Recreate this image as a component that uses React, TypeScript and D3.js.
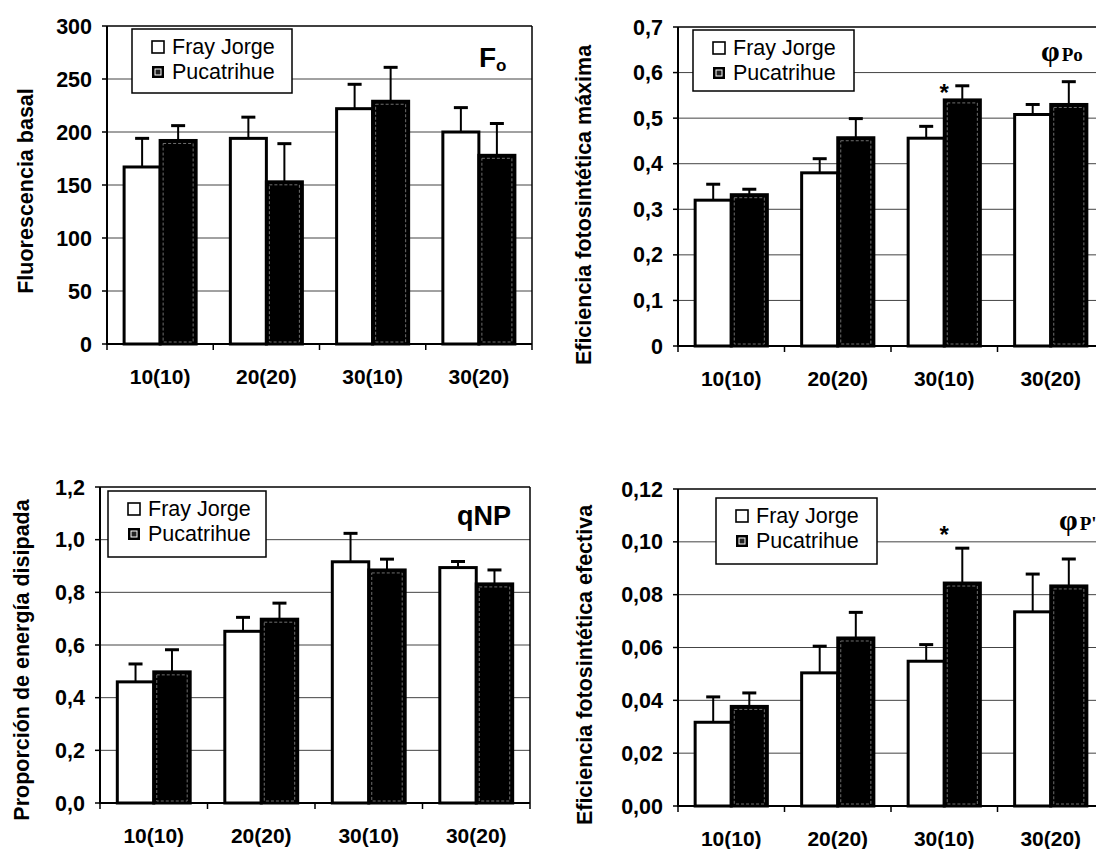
import React from "react";
import * as d3 from "d3";

const categories = ["10(10)", "20(20)", "30(10)", "30(20)"];
const seriesNames = ["Fray Jorge", "Pucatrihue"];

// Fluorescencia basal (Fo)
const foFray = [167, 194, 222, 200];
const foFrayErr = [27, 20, 23, 23];
const foPuca = [192, 153, 229, 178];
const foPucaErr = [14, 36, 32, 30];
const foTicks = [0, 50, 100, 150, 200, 250, 300];

// Eficiencia fotosintética máxima (φPo)
const poFray = [0.32, 0.38, 0.456, 0.508];
const poFrayErr = [0.035, 0.031, 0.026, 0.022];
const poPuca = [0.332, 0.457, 0.54, 0.53];
const poPucaErr = [0.012, 0.042, 0.031, 0.05];
const poTicks = [0, 0.1, 0.2, 0.3, 0.4, 0.5, 0.6, 0.7];
const poSig = [null, null, 0.56, null];

// Proporción de energía disipada (qNP)
const qnpFray = [0.46, 0.652, 0.916, 0.894];
const qnpFrayErr = [0.068, 0.053, 0.108, 0.023];
const qnpPuca = [0.498, 0.698, 0.885, 0.832];
const qnpPucaErr = [0.084, 0.061, 0.041, 0.053];
const qnpTicks = [0, 0.2, 0.4, 0.6, 0.8, 1.0, 1.2];

// Eficiencia fotosintética efectiva (φP')
const pFray = [0.0317, 0.0504, 0.0548, 0.0735];
const pFrayErr = [0.0096, 0.0101, 0.0063, 0.0143];
const pPuca = [0.0377, 0.0636, 0.0844, 0.0833];
const pPucaErr = [0.0051, 0.0097, 0.0132, 0.0102];
const pTicks = [0, 0.02, 0.04, 0.06, 0.08, 0.1, 0.12];
const pSig = [null, null, 0.1035, null];

const FONT = "'Liberation Sans', Arial, Helvetica, sans-serif";
const SERIF = "'Liberation Serif', 'Times New Roman', serif";

const comma = (f: string) => (v: number) => d3.format(f)(v).replace(".", ",");

type PanelProps = {
  left: number; right: number; top: number; bottom: number;
  ticks: number[]; fmt: (v: number) => string;
  fray: number[]; frayErr: number[]; puca: number[]; pucaErr: number[];
  sig?: (number | null)[];
  legend: { x: number; y: number; w: number; h: number };
  title: string; titleX: number; titleY: number;
  label: React.ReactNode;
};

function Panel(p: PanelProps) {
  const x = d3.scaleBand<string>().domain(categories).range([p.left, p.right]).padding(0);
  const xs = d3.scaleBand<string>().domain(seriesNames).range([0, x.bandwidth()]).paddingInner(0).paddingOuter(0.475);
  const y = d3.scaleLinear().domain([0, p.ticks[p.ticks.length - 1]]).range([p.bottom, p.top]);
  const bw = xs.bandwidth();
  const data = [
    { name: seriesNames[0], vals: p.fray, errs: p.frayErr },
    { name: seriesNames[1], vals: p.puca, errs: p.pucaErr },
  ];
  const boundaries = [...categories.map((c) => x(c) as number), p.right];
  return (
    <g>
      {p.ticks.slice(1, -1).map((t) => (
        <line key={"g" + t} x1={p.left} x2={p.right} y1={y(t)} y2={y(t)} stroke="#444" strokeWidth={1} />
      ))}
      <rect x={p.legend.x} y={p.legend.y} width={p.legend.w} height={p.legend.h} fill="#fff" stroke="#000" strokeWidth={1.5} />
      <rect x={p.legend.x + 20} y={p.legend.y + 12} width={12} height={12} fill="#fff" stroke="#000" strokeWidth={1.6} />
      <text x={p.legend.x + 40} y={p.legend.y + 25} fontFamily={FONT} fontSize={21.5} fill="#000">{seriesNames[0]}</text>
      <rect x={p.legend.x + 20} y={p.legend.y + 37} width={12} height={12} fill="#000" />
      <rect x={p.legend.x + 23} y={p.legend.y + 40} width={6} height={6} fill="#222" stroke="#fff" strokeWidth={1} />
      <text x={p.legend.x + 40} y={p.legend.y + 50} fontFamily={FONT} fontSize={21.5} fill="#000">{seriesNames[1]}</text>
      {data.map((s, si) =>
        categories.map((c, i) => {
          const bx = (x(c) as number) + (xs(s.name) as number);
          const top = y(s.vals[i]);
          const cx = bx + bw / 2;
          const et = y(s.vals[i] + s.errs[i]);
          return (
            <g key={s.name + c}>
              <line x1={cx} x2={cx} y1={top} y2={et} stroke="#000" strokeWidth={2} />
              <line x1={cx - 7} x2={cx + 7} y1={et} y2={et} stroke="#000" strokeWidth={3} />
              <rect x={bx} y={top} width={bw} height={p.bottom - top} fill={si === 0 ? "#fff" : "#000"} stroke="#000" strokeWidth={3} />
              {si === 1 && (
                <rect x={bx + 3} y={top + 3} width={bw - 6} height={p.bottom - top - 5} fill="none" stroke="#8a8a8a" strokeWidth={0.8} strokeDasharray="3 2" />
              )}
            </g>
          );
        })
      )}
      {p.sig &&
        p.sig.map((v, i) =>
          v == null ? null : (
            <text key={"s" + i} x={(x(categories[i]) as number) + x.bandwidth() / 2} y={y(v) + 10} textAnchor="middle" fontFamily={FONT} fontWeight="bold" fontSize={24} fill="#000">*</text>
          )
        )}
      <line x1={p.left} x2={p.right} y1={p.top} y2={p.top} stroke="#000" strokeWidth={1.5} />
      <line x1={p.right} x2={p.right} y1={p.top} y2={p.bottom} stroke="#000" strokeWidth={1.5} />
      <line x1={p.left} x2={p.left} y1={p.top} y2={p.bottom + 1} stroke="#000" strokeWidth={2} />
      <line x1={p.left - 1} x2={p.right} y1={p.bottom} y2={p.bottom} stroke="#000" strokeWidth={2} />
      {p.ticks.map((t) => (
        <g key={"t" + t}>
          <line x1={p.left - 5} x2={p.left} y1={y(t)} y2={y(t)} stroke="#000" strokeWidth={1.5} />
          <text x={p.left - 15} y={y(t) + 7.5} textAnchor="end" fontFamily={FONT} fontWeight="bold" fontSize={21.5} fill="#000">{p.fmt(t)}</text>
        </g>
      ))}
      {boundaries.map((b, i) => (
        <line key={"xb" + i} x1={b} x2={b} y1={p.bottom} y2={p.bottom + 6} stroke="#000" strokeWidth={1.5} />
      ))}
      {categories.map((c) => (
        <text key={"xl" + c} x={(x(c) as number) + x.bandwidth() / 2} y={p.bottom + 40} textAnchor="middle" fontFamily={FONT} fontWeight="bold" fontSize={21} fill="#000">{c}</text>
      ))}
      <text transform={`translate(${p.titleX},${p.titleY}) rotate(-90)`} textAnchor="middle" dy="0.35em" fontFamily={FONT} fontWeight="bold" fontSize={21.5} fill="#000">{p.title}</text>
      {p.label}
    </g>
  );
}

export default function App() {
  return (
    <svg width={1096} height={849} style={{ position: "absolute", left: 0, top: 0, background: "#fff" }}>
      <rect x={0} y={0} width={1096} height={849} fill="#fff" />
      <Panel
        left={107} right={532} top={26} bottom={344}
        ticks={foTicks} fmt={(v) => d3.format("d")(v)}
        fray={foFray} frayErr={foFrayErr} puca={foPuca} pucaErr={foPucaErr}
        legend={{ x: 132, y: 29, w: 160, h: 64 }}
        title="Fluorescencia basal" titleX={25} titleY={191}
        label={
          <text x={479} y={67} fontFamily={FONT} fontWeight="bold" fontSize={28} fill="#000">
            F<tspan fontSize={17} dy={4}>o</tspan>
          </text>
        }
      />
      <Panel
        left={678} right={1104} top={27} bottom={346}
        ticks={poTicks} fmt={(v) => (v === 0 ? "0" : comma(".1f")(v))}
        fray={poFray} frayErr={poFrayErr} puca={poPuca} pucaErr={poPucaErr}
        sig={poSig}
        legend={{ x: 693, y: 30, w: 161, h: 61 }}
        title="Eficiencia fotosintética máxima" titleX={583} titleY={205}
        label={
          <text x={1041} y={61} fontFamily={SERIF} fill="#000">
            <tspan fontSize={30} fontWeight="bold">φ</tspan>
            <tspan fontSize={19} fontWeight="bold" dx={2}>Po</tspan>
          </text>
        }
      />
      <Panel
        left={100} right={530} top={487} bottom={803}
        ticks={qnpTicks} fmt={comma(".1f")}
        fray={qnpFray} frayErr={qnpFrayErr} puca={qnpPuca} pucaErr={qnpPucaErr}
        legend={{ x: 108, y: 491, w: 158, h: 66 }}
        title="Proporción de energía disipada" titleX={21} titleY={660}
        label={
          <text x={511} y={525} textAnchor="end" fontFamily={FONT} fontWeight="bold" fontSize={27} fill="#000">qNP</text>
        }
      />
      <Panel
        left={678} right={1104} top={489} bottom={806}
        ticks={pTicks} fmt={comma(".2f")}
        fray={pFray} frayErr={pFrayErr} puca={pPuca} pucaErr={pPucaErr}
        sig={pSig}
        legend={{ x: 716, y: 498, w: 161, h: 66 }}
        title="Eficiencia fotosintética efectiva" titleX={584} titleY={665}
        label={
          <text x={1059} y={530} fontFamily={SERIF} fill="#000">
            <tspan fontSize={30} fontWeight="bold">φ</tspan>
            <tspan fontSize={19} fontWeight="bold" dx={2}>P'</tspan>
          </text>
        }
      />
    </svg>
  );
}
